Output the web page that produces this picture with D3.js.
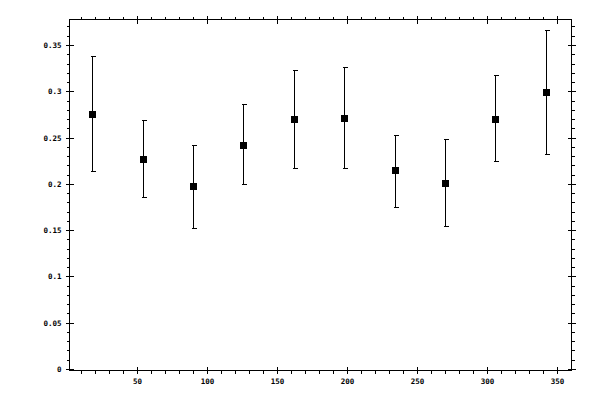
<!DOCTYPE html>
<html>
<head>
<meta charset="utf-8">
<script src="https://cdn.jsdelivr.net/npm/d3@7"></script>
<style>
  html, body { margin: 0; padding: 0; background: #fff; }
  svg { display: block; }
  text { font-family: "DejaVu Sans Mono", monospace; font-size: 7.5px; fill: #000; -webkit-font-smoothing: none; font-smooth: never; }
</style>
</head>
<body>
<svg id="chart" width="600" height="400"></svg>
<script>
// ---- data ----
const angles = [18, 54, 90, 126, 162, 198, 234, 270, 306, 342];
const values = [0.276, 0.227, 0.198, 0.243, 0.271, 0.272, 0.215, 0.202, 0.271, 0.300];
const lower  = [0.214, 0.186, 0.153, 0.200, 0.218, 0.218, 0.176, 0.155, 0.225, 0.233];
const upper  = [0.339, 0.269, 0.243, 0.287, 0.324, 0.327, 0.253, 0.249, 0.318, 0.367];

const xMajorTicks = [50, 100, 150, 200, 250, 300, 350];
const xMinorTicks = d3.range(10, 360, 10).filter(v => v % 50 !== 0);
const yMajorTicks = [0, 0.05, 0.1, 0.15, 0.2, 0.25, 0.3, 0.35];
const yMajorLabels = ["0", "0.05", "0.1", "0.15", "0.2", "0.25", "0.3", "0.35"];
const yMinorTicks = d3.range(1, 38).map(i => i / 100).filter(v => Math.round(v * 100) % 5 !== 0);

// ---- layout ----
const L = 69.5, R = 571.5, T = 19.5, B = 370.5;
const x = d3.scaleLinear().domain([1.43, 360]).range([L, R]);
const y = d3.scaleLinear().domain([-0.00108, 0.3781]).range([B, T]);

const svg = d3.select("#chart");
const g = svg.append("g").attr("shape-rendering", "crispEdges");

function axisGroup(axis, tx, ty) {
  const a = g.append("g").attr("transform", `translate(${tx},${ty})`).call(axis.offset(0));
  a.select(".domain").remove();
  a.selectAll("line").attr("stroke", "#000").attr("stroke-width", 1);
  return a;
}

// bottom
axisGroup(d3.axisBottom(x).tickValues(xMinorTicks).tickSize(3).tickFormat(""), 0, B);
axisGroup(d3.axisBottom(x).tickValues(xMajorTicks).tickSize(3).tickFormat(""), 0, B);
axisGroup(d3.axisTop(x).tickValues(xMajorTicks).tickSize(4).tickFormat(""), 0, B);
const xl = axisGroup(d3.axisBottom(x).tickValues(xMajorTicks).tickSize(0).tickFormat(d => String(d)), 0, B);
xl.selectAll("text").attr("y", 13).attr("dy", null).attr("font-family", null).attr("font-size", null)
  .attr("font-weight", "bold");

// top
axisGroup(d3.axisTop(x).tickValues(xMinorTicks).tickSize(3).tickFormat(""), 0, T);
axisGroup(d3.axisTop(x).tickValues(xMajorTicks).tickSize(4).tickFormat(""), 0, T);
axisGroup(d3.axisBottom(x).tickValues(xMajorTicks).tickSize(4).tickFormat(""), 0, T);

// left
axisGroup(d3.axisLeft(y).tickValues(yMinorTicks).tickSize(3).tickFormat(""), L, 0);
axisGroup(d3.axisLeft(y).tickValues(yMajorTicks).tickSize(4).tickFormat(""), L, 0);
axisGroup(d3.axisRight(y).tickValues(yMajorTicks).tickSize(4).tickFormat(""), L, 0);
const yl = axisGroup(d3.axisLeft(y).tickValues(yMajorTicks).tickSize(0)
  .tickFormat((d, i) => yMajorLabels[i]), L, 0);
yl.selectAll("text").attr("x", -8).attr("dy", null).attr("y", 2.5)
  .attr("font-family", null).attr("font-size", null).attr("font-weight", "bold");

// right
axisGroup(d3.axisRight(y).tickValues(yMinorTicks).tickSize(3).tickFormat(""), R, 0);
axisGroup(d3.axisRight(y).tickValues(yMajorTicks).tickSize(4).tickFormat(""), R, 0);
axisGroup(d3.axisLeft(y).tickValues(yMajorTicks).tickSize(4).tickFormat(""), R, 0);

// frame
g.append("rect").attr("x", L).attr("y", T).attr("width", R - L).attr("height", B - T)
  .attr("fill", "none").attr("stroke", "#000").attr("stroke-width", 1);

// ---- error bars & markers ----
const pts = angles.map((a, i) => ({ a, v: values[i], lo: lower[i], hi: upper[i] }));
const cx = d => Math.floor(x(d.a)) + 0.5;
const eb = g.append("g").attr("stroke", "#000").attr("stroke-width", 1);
eb.selectAll("line.v").data(pts).join("line").attr("class", "v")
  .attr("x1", cx).attr("x2", cx)
  .attr("y1", d => Math.round(y(d.hi)) + 0.5).attr("y2", d => Math.round(y(d.lo)) + 0.5);
eb.selectAll("line.t").data(pts).join("line").attr("class", "t")
  .attr("x1", d => cx(d) - 2).attr("x2", d => cx(d) + 3)
  .attr("y1", d => Math.round(y(d.hi)) + 0.5).attr("y2", d => Math.round(y(d.hi)) + 0.5);
eb.selectAll("line.b").data(pts).join("line").attr("class", "b")
  .attr("x1", d => cx(d) - 2).attr("x2", d => cx(d) + 3)
  .attr("y1", d => Math.round(y(d.lo)) + 0.5).attr("y2", d => Math.round(y(d.lo)) + 0.5);

g.append("g").selectAll("rect").data(pts).join("rect")
  .attr("x", d => Math.floor(x(d.a)) - 3)
  .attr("y", d => Math.round(y(d.v)) - 3)
  .attr("width", 7).attr("height", 7)
  .attr("fill", "#000");
</script>
</body>
</html>
